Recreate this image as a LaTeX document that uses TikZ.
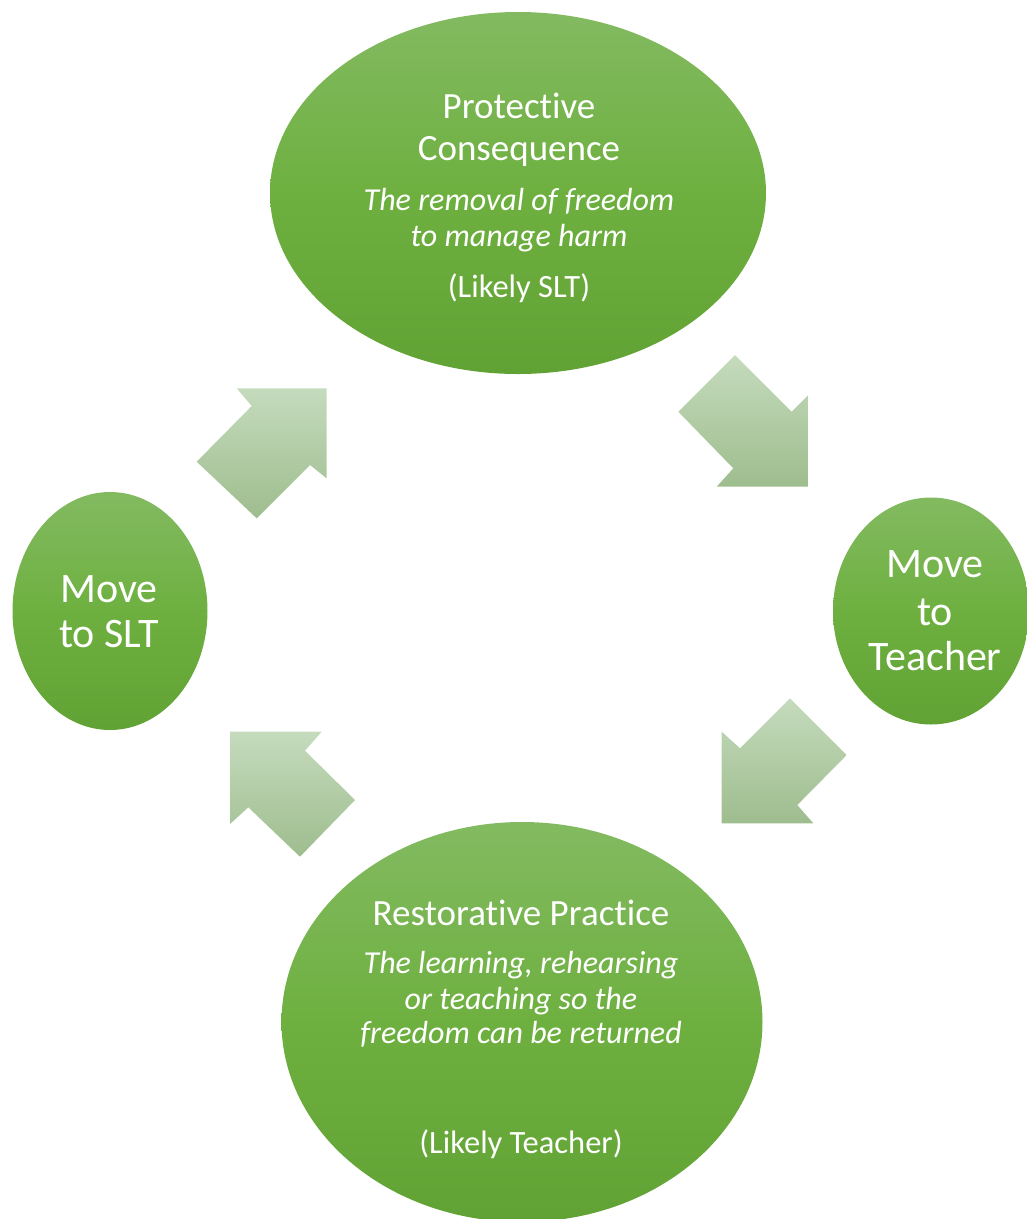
\documentclass[tikz,border=0pt]{standalone}
\usepackage{fontspec}
\setmainfont[Ligatures=NoCommon]{Carlito}
\usetikzlibrary{shapes.geometric}

\begin{document}
\begin{tikzpicture}[x=1pt,y=-1pt]
        % Define colours
        \definecolor{ovaltop}{RGB}{131,186,97}
        \definecolor{ovalmid}{RGB}{110,176,64}
        \definecolor{ovalbot}{RGB}{97,162,52}
        \definecolor{arrowtop}{RGB}{197,219,189}
        \definecolor{arrowbot}{RGB}{158,189,142}
        % Define styles
        \tikzset{
            oval/.style={ellipse, inner sep=0pt, top color=ovaltop, bottom color=ovalbot, middle color=ovalmid},
            bigtext/.style={text=white, anchor=base, inner sep=0pt, font=\fontsize{37}{42}\selectfont},
            smalltext/.style={text=white, anchor=base, inner sep=0pt, font=\fontsize{32.5}{36}\selectfont},
            slanttext/.style={text=white, anchor=base, inner sep=0pt, font=\fontsize{32}{36}\selectfont\itshape},
            movetext/.style={text=white, anchor=base, inner sep=0pt, font=\fontsize{42}{46}\selectfont},
            arrowfill/.style={top color=arrowtop, bottom color=arrowbot}
        }
        \useasboundingbox (0,0) rectangle (1027,1219);

        % Draw the ovals
        \node[oval, minimum width=496, minimum height=362] (protect) at (518,193) {};
        \node[oval, minimum width=195, minimum height=238] (toslt) at (110,611) {};
        \node[oval, minimum width=196, minimum height=227] (toteacher) at (931,611) {};
        \node[oval, minimum width=481, minimum height=400] (restore) at (522,1022) {};

        % Draw the block arrows
        \shade[arrowfill] (236.7,388.3) -- (326.7,388.3) -- (326.7,478.3) -- (310,465)
            -- (256.7,518.3) -- (196.7,461.7) -- (251.7,406) -- cycle;
        \shade[arrowfill] (735,355) -- (791.7,411.7) -- (808.3,395) -- (808.3,486.7)
            -- (716.7,486.7) -- (733.3,468.3) -- (678.3,411.7) -- cycle;
        \shade[arrowfill] (790,698.3) -- (846.7,755) -- (797.3,805) -- (813.3,823.3)
            -- (721.7,823.3) -- (721.7,731.7) -- (740,748.3) -- cycle;
        \shade[arrowfill] (230,731.7) -- (321.7,731.7) -- (305,750.7) -- (355,800)
            -- (300,856.7) -- (248.3,807.3) -- (230,824) -- cycle;

        % Texts of the top oval
        \node[bigtext] (protA) at (519,118) {Protective};
        \node[bigtext] (protB) at (519,160) {Consequence};
        \node[slanttext] (protC) at (519,210) {The removal of freedom};
        \node[slanttext] (protD) at (519,246) {to manage harm};
        \node[smalltext] (protE) at (519,297) {(Likely SLT)};

        % Texts of the side ovals
        \node[movetext] (sltA) at (109,602) {Move};
        \node[movetext] (sltB) at (109,647) {to SLT};
        \node[movetext] (teachA) at (935,577) {Move};
        \node[movetext] (teachB) at (935,625) {to};
        \node[movetext] (teachC) at (935,670) {Teacher};

        % Texts of the bottom oval
        \node[bigtext] (restA) at (521,925) {Restorative Practice};
        \node[slanttext] (restB) at (521,973) {The learning, rehearsing};
        \node[slanttext] (restC) at (521,1009) {or teaching so the};
        \node[slanttext] (restD) at (521,1043) {freedom can be returned};
        \node[smalltext] (restE) at (521,1153) {(Likely Teacher)};
\end{tikzpicture}
\end{document}
